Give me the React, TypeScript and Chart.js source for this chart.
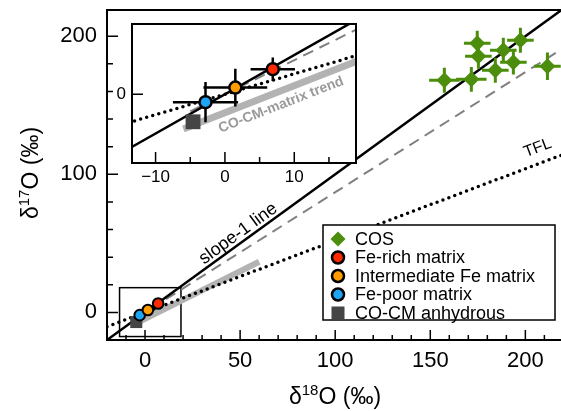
import React, { useEffect, useRef } from "react";
import { Chart, registerables } from "chart.js";
Chart.register(...registerables);

const FONT = "'Liberation Sans', Arial, Helvetica, sans-serif";

// ---- data ----
const cosX = [157.4, 171.6, 174.7, 175.3, 184.2, 188.4, 193.7, 197.4, 211.6];
const cosY = [168.1, 168.8, 194.9, 185.5, 175.4, 189.9, 181.2, 197.1, 178.3];
const cosErrX = [8, 8, 7, 7, 7, 7, 7, 7, 7];
const cosErrY = [9, 9, 9, 9, 9, 9, 9, 9, 10];

const feRichX = [6.9];
const feRichY = [6.4];
const feRichErrX = [3.2];
const feRichErrY = [3.0];

const interX = [1.5];
const interY = [1.7];
const interErrX = [4.6];
const interErrY = [4.8];

const fePoorX = [-2.8];
const fePoorY = [-2.0];
const fePoorErrX = [4.7];
const fePoorErrY = [5.1];

const anhX = [-4.6];
const anhY = [-7.0];

// reference lines: [slope, intercept], x-extent
const slope1Line = [1, 0];
const slope1Extent = [-20, 224];
const dashedLine = [0.87, 0];
const dashedExtent = [-5, 224];
const tflLine = [0.52, 0];
const tflExtent = [-20, 224];
const trendLine = [0.69, -4.7];
const trendExtent = [-6, 60];

// axes
const mainXRange = [-20, 224];
const mainYRange = [-20, 219];
const insetXRange = [-13.4, 18.9];
const insetYRange = [-17.5, 17.9];
const mainXTickLabels = [0, 50, 100, 150, 200];
const mainYTickLabels = [0, 100, 200];
const insetXTickLabels = [-10, 0, 10];
const insetYTickLabels = [0];

const GREEN = "#4c8e0c";
const RED = "#ff2a00";
const ORANGE = "#ff9c00";
const BLUE = "#1ea4f4";
const DARK = "#454545";

const pts = (xs: number[], ys: number[]) => xs.map((x, i) => ({ x, y: ys[i] }));
const lineData = (l: number[], ext: number[]) => ext.map((x) => ({ x, y: l[0] * x + l[1] }));
const fmt = (v: number) => (v < 0 ? "\u2212" + Math.abs(v) : String(v));

function buildDatasets(inset: boolean): any[] {
  const r = inset ? 6 : 5.3;
  const bw = inset ? 2.5 : 2;
  const ds: any[] = [];
  ds.push({
    legendLabel: "COS", legendStyle: "diamond",
    data: pts(cosX, cosY), pointStyle: "rectRot", pointRadius: 8,
    backgroundColor: GREEN, borderColor: GREEN, borderWidth: 0, showLine: false,
    errX: cosErrX, errY: cosErrY, errColor: GREEN, errWidth: 3,
  });
  ds.push({
    legendLabel: "Fe-rich matrix", legendStyle: "circle",
    data: pts(feRichX, feRichY), pointStyle: "circle", pointRadius: r,
    backgroundColor: RED, borderColor: "#000", borderWidth: bw, showLine: false,
    ...(inset ? { errX: feRichErrX, errY: feRichErrY, errColor: "#000", errWidth: 2.5 } : {}),
  });
  ds.push({
    legendLabel: "Intermediate Fe matrix", legendStyle: "circle",
    data: pts(interX, interY), pointStyle: "circle", pointRadius: r,
    backgroundColor: ORANGE, borderColor: "#000", borderWidth: bw, showLine: false,
    ...(inset ? { errX: interErrX, errY: interErrY, errColor: "#000", errWidth: 2.5 } : {}),
  });
  ds.push({
    legendLabel: "Fe-poor matrix", legendStyle: "circle",
    data: pts(fePoorX, fePoorY), pointStyle: "circle", pointRadius: r,
    backgroundColor: BLUE, borderColor: "#000", borderWidth: bw, showLine: false,
    ...(inset ? { errX: fePoorErrX, errY: fePoorErrY, errColor: "#000", errWidth: 2.5 } : {}),
  });
  ds.push({
    legendLabel: "CO-CM anhydrous", legendStyle: "square",
    data: pts(anhX, anhY), pointStyle: "rect", pointRadius: inset ? 10.5 : 8.5,
    backgroundColor: DARK, borderColor: DARK, borderWidth: 0, showLine: false,
  });
  ds.push({
    data: lineData(slope1Line, slope1Extent), showLine: true, pointRadius: 0,
    borderColor: "#000", borderWidth: 2.5,
  });
  ds.push({
    data: lineData(dashedLine, dashedExtent), showLine: true, pointRadius: 0,
    borderColor: "#808080", borderWidth: 2, borderDash: [11, 7],
  });
  ds.push({
    data: lineData(tflLine, tflExtent), showLine: true, pointRadius: 0,
    borderColor: "#000", borderWidth: 3.5, borderDash: [0, 6.3], borderCapStyle: "round",
  });
  ds.push({
    data: lineData(trendLine, trendExtent), showLine: true, pointRadius: 0,
    borderColor: "#b3b3b3", borderWidth: inset ? 7 : 6,
  });
  return ds;
}

const errorBarPlugin = {
  id: "errbars",
  beforeDatasetDraw(chart: any, args: any) {
    const ds = chart.data.datasets[args.index];
    if (!ds.errX) return;
    const ctx = chart.ctx;
    const xs = chart.scales.x, ys = chart.scales.y;
    ctx.save();
    ctx.strokeStyle = ds.errColor;
    ctx.lineWidth = ds.errWidth;
    ds.data.forEach((p: any, i: number) => {
      const ex = ds.errX[i], ey = ds.errY[i];
      ctx.beginPath();
      ctx.moveTo(xs.getPixelForValue(p.x - ex), ys.getPixelForValue(p.y));
      ctx.lineTo(xs.getPixelForValue(p.x + ex), ys.getPixelForValue(p.y));
      ctx.moveTo(xs.getPixelForValue(p.x), ys.getPixelForValue(p.y - ey));
      ctx.lineTo(xs.getPixelForValue(p.x), ys.getPixelForValue(p.y + ey));
      ctx.stroke();
    });
    ctx.restore();
  },
};

function drawRotatedText(ctx: any, text: string, x: number, y: number, angle: number, font: string, color: string) {
  ctx.save();
  ctx.translate(x, y);
  ctx.rotate(angle);
  ctx.font = font;
  ctx.fillStyle = color;
  ctx.textAlign = "center";
  ctx.textBaseline = "middle";
  ctx.fillText(text, 0, 0);
  ctx.restore();
}

function lineAngle(chart: any, l: number[], x1: number, x2: number) {
  const xs = chart.scales.x, ys = chart.scales.y;
  const dx = xs.getPixelForValue(x2) - xs.getPixelForValue(x1);
  const dy = ys.getPixelForValue(l[0] * x2 + l[1]) - ys.getPixelForValue(l[0] * x1 + l[1]);
  return Math.atan2(dy, dx);
}

function drawSupTitle(ctx: any, parts: [string, boolean][], size: number, cx: number, cy: number) {
  const supSize = Math.round(size * 0.66);
  let total = 0;
  parts.forEach(([t, sup]) => {
    ctx.font = `${sup ? supSize : size}px ${FONT}`;
    total += ctx.measureText(t).width;
  });
  let x = cx - total / 2;
  const base = cy + size * 0.36;
  ctx.fillStyle = "#000";
  ctx.textAlign = "left";
  ctx.textBaseline = "alphabetic";
  parts.forEach(([t, sup]) => {
    ctx.font = `${sup ? supSize : size}px ${FONT}`;
    ctx.fillText(t, x, sup ? base - size * 0.42 : base);
    x += ctx.measureText(t).width;
  });
}

function drawMarker(ctx: any, style: string, color: string, x: number, y: number) {
  ctx.save();
  ctx.fillStyle = color;
  if (style === "diamond") {
    const r = 7.5;
    ctx.beginPath();
    ctx.moveTo(x, y - r); ctx.lineTo(x + r, y); ctx.lineTo(x, y + r); ctx.lineTo(x - r, y);
    ctx.closePath(); ctx.fill();
  } else if (style === "circle") {
    ctx.beginPath();
    ctx.arc(x, y, 6, 0, Math.PI * 2);
    ctx.fill();
    ctx.lineWidth = 2.5; ctx.strokeStyle = "#000"; ctx.stroke();
  } else {
    ctx.fillRect(x - 6.5, y - 6.5, 13, 13);
  }
  ctx.restore();
}

const mainPlugin = {
  id: "mainDeco",
  beforeDatasetsDraw(chart: any) {
    const ctx = chart.ctx;
    const xs = chart.scales.x, ys = chart.scales.y;
    const x1 = xs.getPixelForValue(insetXRange[0]), x2 = xs.getPixelForValue(insetXRange[1]);
    const y1 = ys.getPixelForValue(insetYRange[1]), y2 = ys.getPixelForValue(insetYRange[0]);
    ctx.save();
    ctx.strokeStyle = "#000";
    ctx.lineWidth = 1.5;
    ctx.strokeRect(x1, y1, x2 - x1, y2 - y1);
    ctx.restore();
  },
  afterDatasetsDraw(chart: any) {
    const ctx = chart.ctx;
    const ca = chart.chartArea;
    const xs = chart.scales.x, ys = chart.scales.y;
    ctx.save();
    ctx.strokeStyle = "#000";
    ctx.lineWidth = 2;
    ctx.strokeRect(ca.left, ca.top, ca.right - ca.left, ca.bottom - ca.top);
    ctx.lineWidth = 1.5;
    ctx.beginPath();
    for (let v = -10; v <= 220; v += 10) {
      const px = xs.getPixelForValue(v);
      const len = v % 50 === 0 ? 10 : 5;
      ctx.moveTo(px, ca.bottom); ctx.lineTo(px, ca.bottom - len);
    }
    for (let v = 0; v <= 200; v += 20) {
      const py = ys.getPixelForValue(v);
      const len = v % 100 === 0 ? 11 : 6;
      ctx.moveTo(ca.left, py); ctx.lineTo(ca.left + len, py);
    }
    ctx.stroke();
    const a1 = lineAngle(chart, slope1Line, 0, 100);
    drawRotatedText(ctx, "slope-1 line", xs.getPixelForValue(49), ys.getPixelForValue(57), a1, `18px ${FONT}`, "#000");
    const a2 = lineAngle(chart, tflLine, 0, 100);
    drawRotatedText(ctx, "TFL", xs.getPixelForValue(206.5), ys.getPixelForValue(119), a2, `16px ${FONT}`, "#000");
    const lx = 323, ly = 225, lw = 232, lh = 95;
    ctx.fillStyle = "#fff";
    ctx.fillRect(lx, ly, lw, lh);
    ctx.strokeStyle = "#000";
    ctx.lineWidth = 1.5;
    ctx.strokeRect(lx, ly, lw, lh);
    const items = chart.data.datasets.filter((d: any) => d.legendLabel);
    items.forEach((d: any, i: number) => {
      const yy = 239 + i * 18.5;
      drawMarker(ctx, d.legendStyle, d.backgroundColor, 338, yy);
      ctx.font = `18px ${FONT}`;
      ctx.fillStyle = "#000";
      ctx.textAlign = "left";
      ctx.textBaseline = "middle";
      ctx.fillText(d.legendLabel, 355, yy + 1);
    });
    drawSupTitle(ctx, [["\u03b4", false], ["18", true], ["O (\u2030)", false]], 23, 335, 396);
    ctx.translate(30, 173);
    ctx.rotate(-Math.PI / 2);
    drawSupTitle(ctx, [["\u03b4", false], ["17", true], ["O (\u2030)", false]], 23, 0, 0);
    ctx.restore();
  },
};

const insetPlugin = {
  id: "insetDeco",
  beforeDatasetsDraw(chart: any) {
    const ctx = chart.ctx;
    const ca = chart.chartArea;
    ctx.save();
    ctx.fillStyle = "#fff";
    ctx.fillRect(ca.left, ca.top, ca.right - ca.left, ca.bottom - ca.top);
    ctx.restore();
  },
  afterDatasetsDraw(chart: any) {
    const ctx = chart.ctx;
    const ca = chart.chartArea;
    const xs = chart.scales.x, ys = chart.scales.y;
    ctx.save();
    const a = lineAngle(chart, trendLine, 0, 10);
    drawRotatedText(ctx, "CO-CM-matrix trend", xs.getPixelForValue(8.1), ys.getPixelForValue(-2.7), a, `bold 14px ${FONT}`, "#9a9a9a");
    ctx.strokeStyle = "#000";
    ctx.lineWidth = 2;
    ctx.strokeRect(ca.left, ca.top, ca.right - ca.left, ca.bottom - ca.top);
    ctx.lineWidth = 1.5;
    ctx.beginPath();
    for (let v = -10; v <= 15; v += 5) {
      const px = xs.getPixelForValue(v);
      const len = v % 10 === 0 ? 11 : 6;
      ctx.moveTo(px, ca.bottom); ctx.lineTo(px, ca.bottom - len);
    }
    insetYTickLabels.forEach((v) => {
      const py = ys.getPixelForValue(v);
      ctx.moveTo(ca.left, py); ctx.lineTo(ca.left + 11, py);
    });
    ctx.stroke();
    ctx.restore();
  },
};

function axisCommon(range: number[], labels: number[], size: number, pad: number, fit: (s: any) => void, position: string) {
  return {
    type: "linear",
    position,
    min: range[0],
    max: range[1],
    grid: { display: false, drawTicks: false },
    border: { display: false },
    afterBuildTicks: (s: any) => { s.ticks = labels.map((v) => ({ value: v })); },
    afterFit: (s: any) => {
      fit(s);
      s.paddingTop = 0; s.paddingBottom = 0; s.paddingLeft = 0; s.paddingRight = 0;
    },
    ticks: {
      autoSkip: false, maxRotation: 0, minRotation: 0, color: "#000",
      font: { family: FONT, size }, padding: pad,
      callback: (v: any) => fmt(Number(v)),
    },
  };
}

export default function App() {
  const mainRef = useRef<HTMLCanvasElement>(null);
  const insetRef = useRef<HTMLCanvasElement>(null);

  useEffect(() => {
    const main = new Chart(mainRef.current as HTMLCanvasElement, {
      type: "scatter",
      data: { datasets: buildDatasets(false) },
      options: {
        responsive: false, animation: false, devicePixelRatio: 1, events: [],
        layout: { padding: { left: 0, top: 10, right: 9, bottom: 0 } },
        plugins: { legend: { display: false }, tooltip: { enabled: false } },
        scales: {
          x: axisCommon(mainXRange, mainXTickLabels, 22, 8, (s: any) => { s.height = 71; }, "bottom"),
          y: axisCommon(mainYRange, mainYTickLabels, 22, 10, (s: any) => { s.width = 107; }, "left"),
        },
      } as any,
      plugins: [errorBarPlugin, mainPlugin],
    } as any);
    const inset = new Chart(insetRef.current as HTMLCanvasElement, {
      type: "scatter",
      data: { datasets: buildDatasets(true) },
      options: {
        responsive: false, animation: false, devicePixelRatio: 1, events: [],
        layout: { padding: { left: 0, top: 24, right: 205, bottom: 218 } },
        plugins: { legend: { display: false }, tooltip: { enabled: false } },
        scales: {
          x: axisCommon(insetXRange, insetXTickLabels, 17, 4, (s: any) => { s.height = 30; }, "bottom"),
          y: axisCommon(insetYRange, insetYTickLabels, 17, 6, (s: any) => { s.width = 132; }, "left"),
        },
      } as any,
      plugins: [errorBarPlugin, insetPlugin],
    } as any);
    return () => { main.destroy(); inset.destroy(); };
  }, []);

  return (
    <div style={{ position: "fixed", left: 0, top: 0, width: 561, height: 411, overflow: "hidden", background: "#fff" }}>
      <canvas ref={mainRef} width={580} height={411} style={{ position: "absolute", left: 0, top: 0, width: 580, height: 411 }} />
      <canvas ref={insetRef} width={561} height={411} style={{ position: "absolute", left: 0, top: 0, width: 561, height: 411 }} />
    </div>
  );
}
